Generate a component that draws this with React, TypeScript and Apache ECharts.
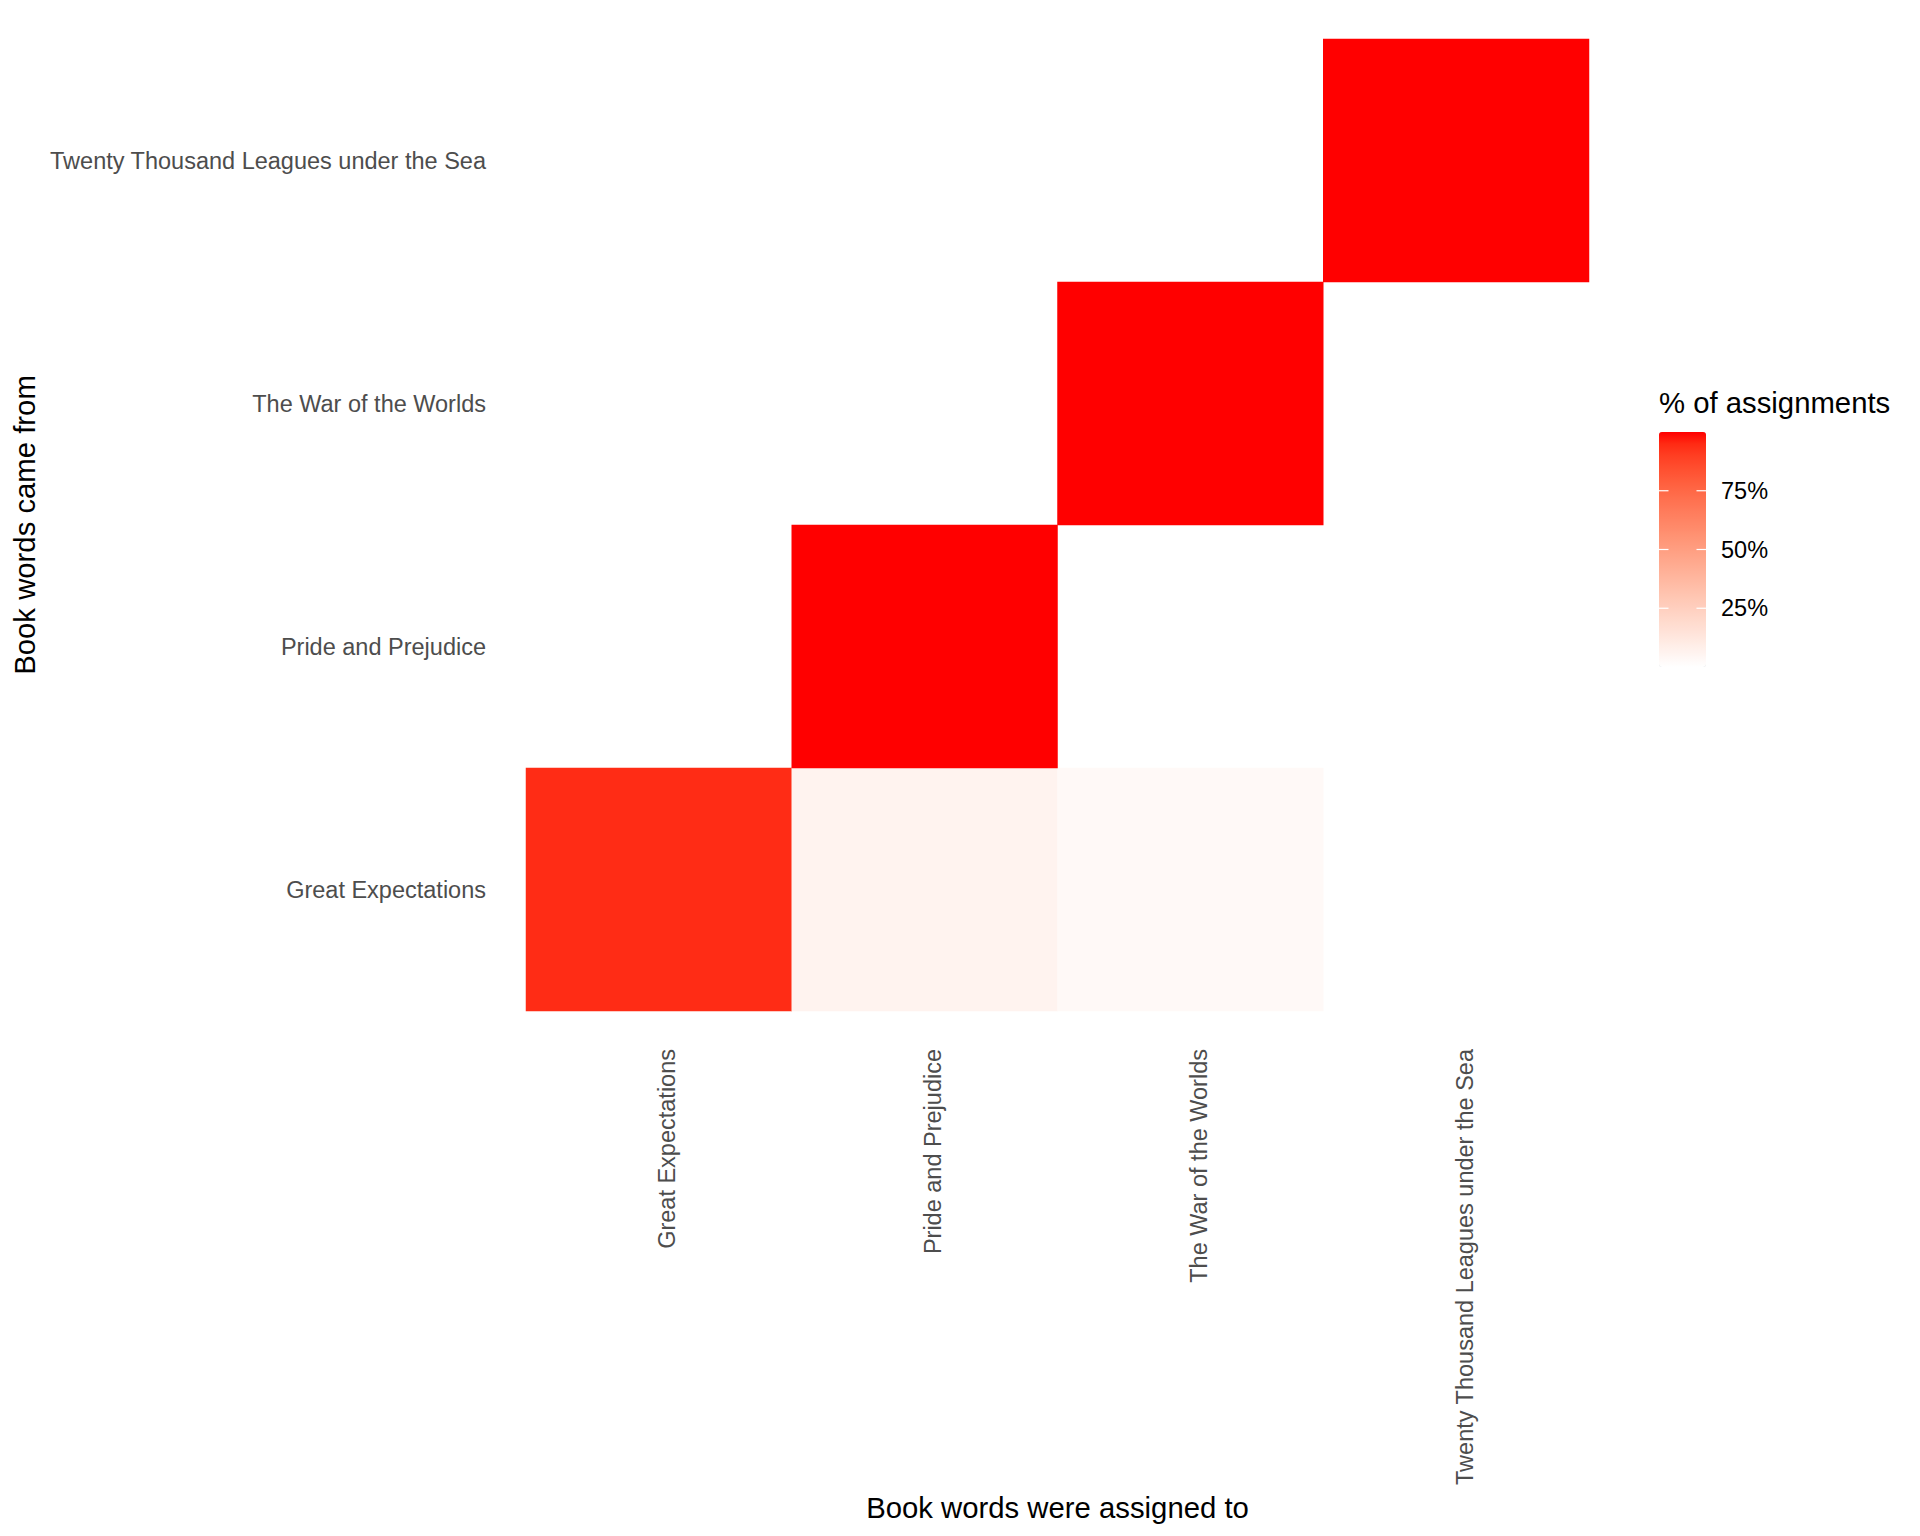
import React, { useEffect, useRef } from "react";
import * as echarts from "echarts";

// Columns: book words were assigned to
const assignedTo = [
  "Great Expectations",
  "Pride and Prejudice",
  "The War of the Worlds",
  "Twenty Thousand Leagues under the Sea",
];
// Rows (bottom to top): book words came from
const cameFrom = [
  "Great Expectations",
  "Pride and Prejudice",
  "The War of the Worlds",
  "Twenty Thousand Leagues under the Sea",
];
// Share of assignments per cell, one array per source book (by column)
const greatExpectationsRow = [0.945, 0.06, 0.03, null];
const prideRow = [null, 1.0, null, null];
const warRow = [null, null, 1.0, null];
const twentyRow = [null, null, null, 1.0];
const legendTicks = [0.25, 0.5, 0.75];
const legendTickLabels = ["25%", "50%", "75%"];

const FONT = "Liberation Sans, Arial, sans-serif";

function labToHex(L: number, a: number, b: number): string {
  const fy = (L + 16) / 116;
  const fx = fy + a / 500;
  const fz = fy - b / 200;
  const finv = (t: number) => (t * t * t > 0.008856 ? t * t * t : (t - 16 / 116) / 7.787);
  const X = 0.95047 * finv(fx);
  const Y = 1.0 * finv(fy);
  const Z = 1.08883 * finv(fz);
  const lin = [
    3.2406 * X - 1.5372 * Y - 0.4986 * Z,
    -0.9689 * X + 1.8758 * Y + 0.0415 * Z,
    0.0557 * X - 0.204 * Y + 1.057 * Z,
  ];
  const out = lin.map((c) => {
    const v = c <= 0.0031308 ? 12.92 * c : 1.055 * Math.pow(Math.max(c, 0), 1 / 2.4) - 0.055;
    const n = Math.round(Math.min(1, Math.max(0, v)) * 255);
    return n.toString(16).padStart(2, "0");
  });
  return "#" + out.join("");
}

function gradientStops(n: number): string[] {
  const res: string[] = [];
  for (let i = 0; i <= n; i++) {
    const t = i / n;
    res.push(labToHex(100 - 46.76 * t, 80.09 * t, 67.2 * t));
  }
  return res;
}

export default function App() {
  const ref = useRef<HTMLDivElement>(null);
  useEffect(() => {
    if (!ref.current) return;
    const chart = echarts.init(ref.current, undefined, { renderer: "svg" });

    const data: [number, number, number][] = [];
    const rows = [greatExpectationsRow, prideRow, warRow, twentyRow];
    rows.forEach((row, yi) => {
      row.forEach((v, xi) => {
        if (v !== null && v !== undefined) data.push([xi, yi, v as number]);
      });
    });

    const barLeft = 1659;
    const barTop = 432;
    const barW = 47;
    const barH = 235;

    const graphics: any[] = [
      {
        type: "text",
        left: barLeft,
        top: 388,
        style: { text: "% of assignments", font: `29.3px ${FONT}`, fill: "#000" },
      },
    ];
    legendTicks.forEach((v, i) => {
      const y = barTop + barH - v * barH;
      graphics.push({
        type: "line",
        shape: { x1: barLeft, y1: y, x2: barLeft + 9.5, y2: y },
        style: { stroke: "#ffffff", lineWidth: 1.2 },
        z: 100,
      });
      graphics.push({
        type: "line",
        shape: { x1: barLeft + barW - 9.5, y1: y, x2: barLeft + barW, y2: y },
        style: { stroke: "#ffffff", lineWidth: 1.2 },
        z: 100,
      });
      graphics.push({
        type: "text",
        x: barLeft + 62,
        y: y,
        style: {
          text: legendTickLabels[i],
          font: `23.5px ${FONT}`,
          fill: "#000",
          verticalAlign: "middle",
          align: "left",
        },
      });
    });

    chart.setOption({
      animation: false,
      backgroundColor: "#ffffff",
      textStyle: { fontFamily: FONT },
      grid: { left: 526, right: 331, top: 39, bottom: 525, containLabel: false },
      xAxis: {
        type: "category",
        data: assignedTo,
        position: "bottom",
        axisLine: { show: false },
        axisTick: { show: false },
        splitLine: { show: false },
        axisLabel: {
          rotate: 90,
          fontSize: 23.5,
          color: "#4D4D4D",
          margin: 38,
          fontFamily: FONT,
          interval: 0,
          verticalAlign: "top",
          lineHeight: 17,
        },
        name: "Book words were assigned to",
        nameLocation: "middle",
        nameGap: 478,
        nameTextStyle: { fontSize: 29.3, color: "#000", fontFamily: FONT },
      },
      yAxis: {
        type: "category",
        data: cameFrom,
        axisLine: { show: false },
        axisTick: { show: false },
        splitLine: { show: false },
        axisLabel: {
          fontSize: 23.5,
          color: "#4D4D4D",
          margin: 40,
          fontFamily: FONT,
          interval: 0,
        },
        name: "Book words came from",
        nameLocation: "middle",
        nameRotate: 90,
        nameGap: 484,
        nameTextStyle: { fontSize: 29.3, color: "#000", fontFamily: FONT },
      },
      visualMap: {
        type: "continuous",
        min: 0,
        max: 1,
        calculable: false,
        orient: "vertical",
        left: barLeft,
        top: barTop,
        padding: 0,
        itemWidth: barW,
        itemHeight: barH,
        text: ["", ""],
        inRange: { color: gradientStops(20) },
        hoverLink: false,
      },
      graphic: graphics,
      series: [
        {
          type: "heatmap",
          data,
          itemStyle: { borderWidth: 0 },
          emphasis: { disabled: true },
        },
      ],
    });
    return () => chart.dispose();
  }, []);
  return (
    <div
      ref={ref}
      style={{ position: "fixed", left: 0, top: 0, width: 1920, height: 1536 }}
    />
  );
}
